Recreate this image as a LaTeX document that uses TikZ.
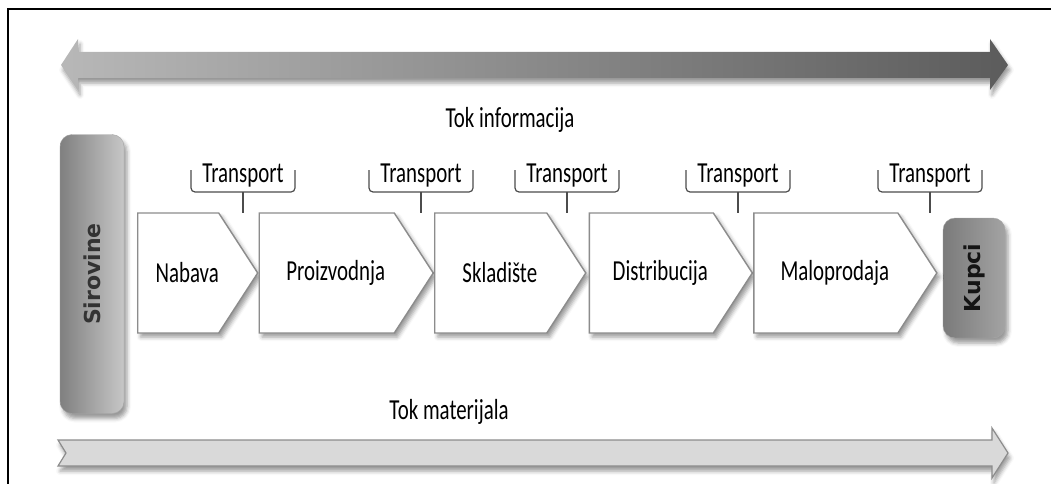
\documentclass[tikz,border=0pt]{standalone}
\usepackage{fontspec}
\setmainfont{Carlito}[FakeStretch=0.72]
\newfontfamily\boxfont{DejaVu Sans}
\usetikzlibrary{positioning,shapes.symbols,shadows.blur}

\tikzset{
  chev/.style={signal, signal to=east, signal pointer angle=114, draw=black!45, line width=1.4pt,
    fill=white, minimum height=120pt, inner sep=0pt,
    blur shadow={shadow xshift=3pt, shadow yshift=-4pt, shadow blur radius=4pt}},
  endbox/.style={rectangle, rounded corners=12pt, draw=black!35, inner sep=0pt,
    blur shadow={shadow xshift=3pt, shadow yshift=-5pt, shadow blur radius=4pt}},
  endtext/.style={rotate=90, font=\boxfont\bfseries\fontsize{22}{24}\selectfont},
  trans/.style={inner sep=0pt},
  brace/.style={draw=black!70, line width=1.2pt, rounded corners=4pt},
}

\begin{document}
\begin{tikzpicture}[x=1pt, y=-1pt, font=\fontsize{29}{32}\selectfont]
  \useasboundingbox (0,0) rectangle (1051,484);
  \draw[line width=1.6pt] (8,484) -- (8,9) -- (1051,9);

  % flow of information
  \shade[left color=black!28, right color=black!64,
    blur shadow={shadow xshift=2pt, shadow yshift=-5pt, shadow blur radius=4pt}]
    (61,65) -- (78,39) -- (78,52) -- (990,52) -- (990,39) -- (1008,65)
    -- (990,90) -- (990,78) -- (78,78) -- (78,90) -- cycle;
  \node (info) at (510,120) {Tok informacija};

  % end points
  \node[endbox, left color=black!50, right color=black!22, minimum width=64pt, minimum height=279pt,
    label={[endtext, text=black!80]center:Sirovine}] (sirovine) at (92,274) {};
  \node[endbox, left color=black!52, right color=black!36, minimum width=62pt, minimum height=120pt,
    label={[endtext, text=black!92]center:Kupci}] (kupci) at (974,278) {};

  % chain
  \node[chev, minimum width=120pt, anchor=west, label={[xshift=9pt]center:Nabava}] (nabava) at (137,273) {};
  \node[chev, minimum width=174pt, label={[xshift=9pt]center:Proizvodnja}, right=0pt of nabava] (proizvodnja) {};
  \node[chev, minimum width=151pt, label={[xshift=9pt]center:Skladište}, right=0pt of proizvodnja] (skladiste) {};
  \node[chev, minimum width=163pt, label={[xshift=9pt]center:Distribucija}, right=2pt of skladiste] (distribucija) {};
  \node[chev, minimum width=183pt, label={[xshift=9pt]center:Maloprodaja}, right=0pt of distribucija] (maloprodaja) {};

  % transport brackets
  \foreach \x [count=\i] in {243,421,567,738,930} {
    \node[trans] (tr\i) at (\x,176) {Transport};
    \draw[brace] (tr\i.center) ++(-52,-6) -- ++(0,22) -- ++(104,0) -- ++(0,-22);
    \draw[brace] (tr\i.center) ++(0,16) -- ++(0,21);
  }

  % flow of material
  \node (mat) at (449,412) {Tok materijala};
  \draw[fill=black!15, draw=black!45, line width=1.2pt,
    blur shadow={shadow xshift=2pt, shadow yshift=-5pt, shadow blur radius=4pt}]
    (58,440) -- (992,440) -- (992,428) -- (1008,453) -- (992,478) -- (992,466)
    -- (58,466) -- (66,453) -- cycle;
\end{tikzpicture}
\end{document}
